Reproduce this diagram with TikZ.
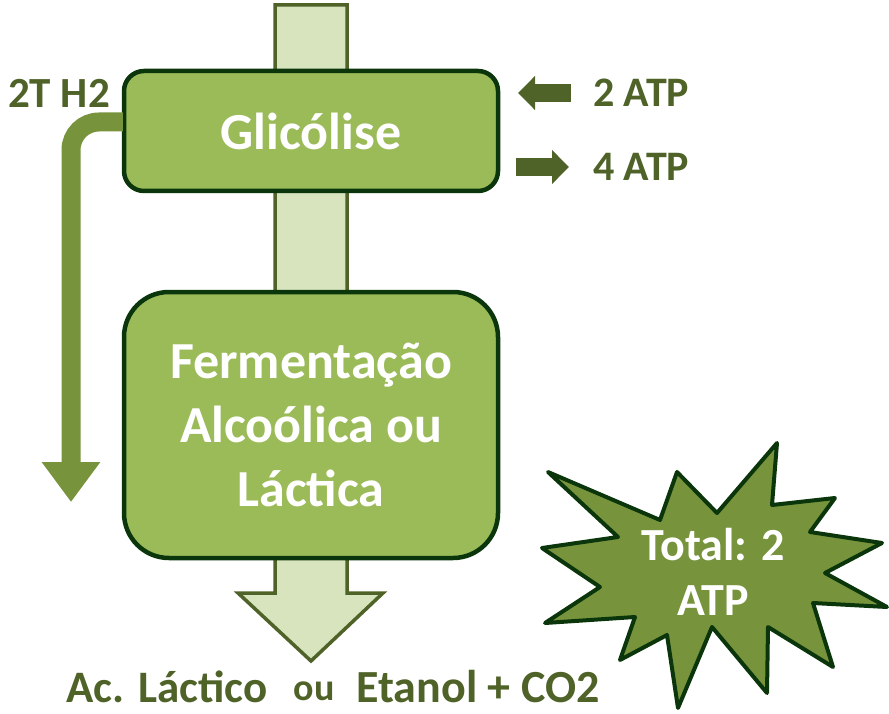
\documentclass[tikz,border=0pt]{standalone}
\usepackage{fontspec}
\setmainfont{Carlito}
\usetikzlibrary{arrows.meta}
\definecolor{boxfill}{HTML}{9BBB59}
\definecolor{boxline}{HTML}{0B360B}
\definecolor{barfill}{HTML}{D7E4BD}
\definecolor{barline}{HTML}{4F6228}
\definecolor{txtgreen}{HTML}{4F6228}
\definecolor{hgreen}{HTML}{77933C}
\tikzset{
  procbox/.style={draw=boxline, line width=4.5pt, fill=boxfill, text=white, font=\bfseries\fontsize{52}{64}\selectfont, align=center, minimum width=374pt, inner sep=0pt},
  lbl/.style={text=txtgreen, font=\bfseries\fontsize{42}{50}\selectfont, inner sep=0pt},
  atparrow/.style={line width=18pt, draw=barline, -{Triangle[length=17pt 0,width=33pt 0]}},
}
\begin{document}
\begin{tikzpicture}[x=1pt,y=-1pt]
\useasboundingbox (0,0) rectangle (889,714);
% big background arrow
\draw[barline, line width=3.5pt, fill=barfill, line join=miter]
  (275,5) -- (347,5) -- (347,593) -- (383,593) -- (311,661) -- (238,593) -- (275,593) -- cycle;
% boxes
\node[procbox, minimum height=120pt, rounded corners=20pt] (glyc) at (311,131) {Glicólise};
\node[procbox, minimum height=266pt, rounded corners=45pt] (ferm) at (311,425) {Fermentação\\Alcoólica ou\\Láctica};
% H2 arrow
\coordinate (h2end) at (71,502);
\draw[hgreen, line width=19pt, rounded corners=28pt, -{Triangle[length=40pt 0,width=56pt 0]}]
  ([xshift=1pt,yshift=9pt]glyc.west) -- (71,122) -- (h2end);
\node[lbl, font=\bfseries\fontsize{43}{50}\selectfont] (h2) at (59,93) {2T H2};
% ATP
\node[lbl, anchor=west] (atp2) at (593,93) {2 ATP};
\node[lbl, anchor=west] (atp4) at (593,167) {4 ATP};
\draw[atparrow] ([xshift=-22pt]atp2.west) -- ([xshift=-75pt]atp2.west);
\draw[atparrow] ([xshift=-77pt]atp4.west) -- ([xshift=-24pt]atp4.west);
% products
\node[lbl, font=\bfseries\fontsize{45}{50}\selectfont] (lac) at (167,687) {Ac. Láctico};
\node[lbl, font=\bfseries\fontsize{38}{44}\selectfont] (ou) at (314,691) {ou};
\node[lbl, font=\bfseries\fontsize{46}{50}\selectfont] (eta) at (478,687) {Etanol + CO2};
% starburst
\draw[draw=boxline, fill=hgreen, line width=4pt, line join=round]
  (548,472) -- (660,520) -- (677,472) -- (717,513) -- (777,443) -- (772,505)
  -- (835,498) -- (810,532) -- (882,543) -- (825,573) -- (887,607) -- (813,603)
  -- (833,667) -- (768,627) -- (767,693) -- (712,627) -- (678,708) -- (667,635)
  -- (620,660) -- (635,617) -- (545,623) -- (600,587) -- (542,548) -- (618,537) -- cycle;
\node[text=white, font=\bfseries\fontsize{46}{55}\selectfont, align=center] (total) at (713,572) {Total: 2\\ATP};
\end{tikzpicture}
\end{document}
